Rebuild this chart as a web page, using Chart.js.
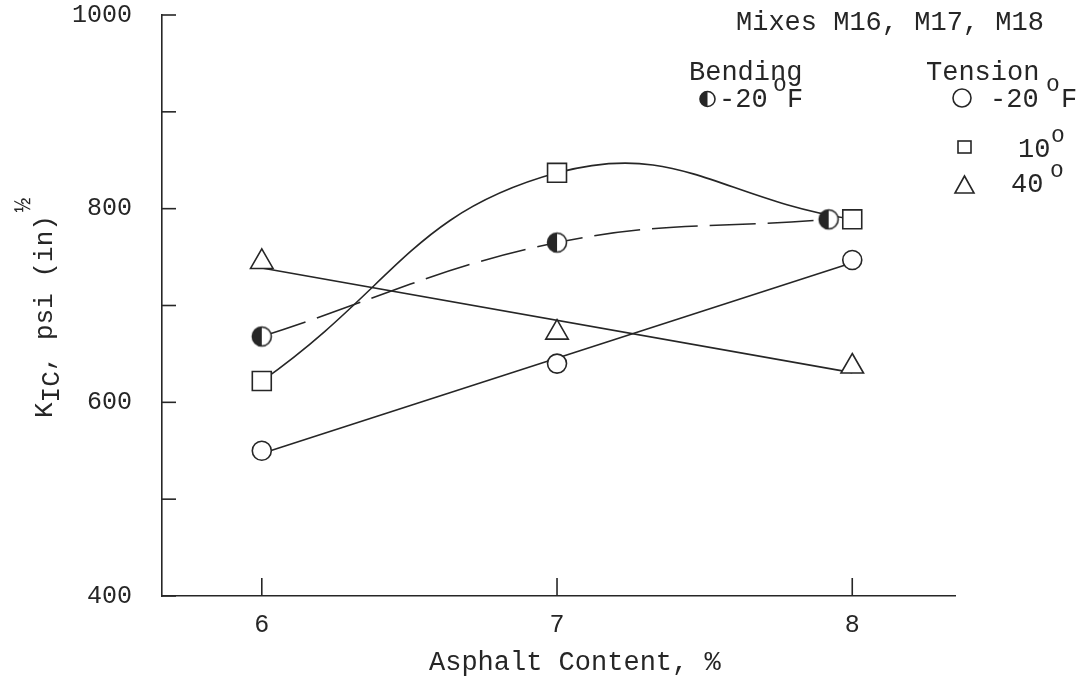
<!DOCTYPE html>
<html>
<head>
<meta charset="utf-8">
<script src="https://cdn.jsdelivr.net/npm/chart.js@4.4.1/dist/chart.umd.min.js"></script>
<style>
  html, body { margin: 0; padding: 0; background: #fff; }
  #wrap { width: 1088px; height: 681px; position: relative; }
</style>
</head>
<body>
<div id="wrap"><canvas id="c" width="1088" height="681"></canvas></div>
<script>
// Asphalt content (%) for each mix
const asphaltContent = [6, 7, 8];
const bendingContent = [6, 7, 7.92];

// Fracture toughness K_IC, psi (in)^1/2
const tensionMinus20 = [550, 640, 747];
const tension10 = [622, 837, 789];
const tension40 = [745, 672, 637];
const bendingMinus20 = [668, 765, 789];

// Axis ticks
const xTicks = [6, 7, 8];
const yTicks = [400, 500, 600, 700, 800, 900, 1000];
const yLabels = [400, 600, 800, 1000];

const INK = '#262626';
const FONT = 'Liberation Mono';
const f = (s) => s + 'px "' + FONT + '"';

const pts = (xs, ys) => xs.map((x, i) => ({ x: x, y: ys[i] }));

// least-squares straight line evaluated at the ends of the data
function fitLine(xs, ys) {
  const n = xs.length;
  const mx = xs.reduce((a, b) => a + b, 0) / n;
  const my = ys.reduce((a, b) => a + b, 0) / n;
  let sxy = 0, sxx = 0;
  for (let i = 0; i < n; i++) { sxy += (xs[i] - mx) * (ys[i] - my); sxx += (xs[i] - mx) ** 2; }
  const b = sxy / sxx;
  const x0 = xs[0], x1 = xs[n - 1];
  return [{ x: x0, y: my + b * (x0 - mx) }, { x: x1, y: my + b * (x1 - mx) }];
}

// half-filled circle (left half solid)
function drawHalfCircle(ctx, cx, cy, r) {
  ctx.save();
  ctx.beginPath(); ctx.arc(cx, cy, r, 0, Math.PI * 2);
  ctx.fillStyle = '#fff'; ctx.fill();
  ctx.beginPath(); ctx.arc(cx, cy, r, Math.PI / 2, Math.PI * 1.5);
  ctx.closePath(); ctx.fillStyle = INK; ctx.fill();
  ctx.beginPath(); ctx.arc(cx, cy, r, 0, Math.PI * 2);
  ctx.lineWidth = 1.6; ctx.strokeStyle = INK; ctx.stroke();
  ctx.restore();
}
const halfMarker = document.createElement('canvas');
halfMarker.width = 24; halfMarker.height = 24;
drawHalfCircle(halfMarker.getContext('2d'), 12, 12, 9.5);

const markerBase = { showLine: false, pointBackgroundColor: '#fff', pointBorderColor: INK, pointBorderWidth: 1.6, borderColor: INK };
const lineBase = { pointRadius: 0, borderColor: INK, borderWidth: 1.6, fill: false };

const frame = {
  id: 'frame',
  afterDraw(chart) {
    const ctx = chart.ctx;
    const xs = chart.scales.x, ys = chart.scales.y;
    const left = chart.chartArea.left, bottom = chart.chartArea.bottom;
    ctx.save();
    ctx.strokeStyle = INK; ctx.lineWidth = 1.6;
    // inward tick marks
    yTicks.forEach(v => {
      const p = ys.getPixelForValue(v);
      ctx.beginPath(); ctx.moveTo(left, p); ctx.lineTo(left + 14, p); ctx.stroke();
    });
    xTicks.forEach(v => {
      const p = xs.getPixelForValue(v);
      ctx.beginPath(); ctx.moveTo(p, bottom); ctx.lineTo(p, bottom - 18); ctx.stroke();
    });

    ctx.fillStyle = INK;
    ctx.textAlign = 'left'; ctx.textBaseline = 'alphabetic';

    // x-axis title
    ctx.font = f(27);
    ctx.fillText('Asphalt Content, %', 429, 670);

    // y-axis title: K_IC, psi (in)^1/2
    ctx.save();
    ctx.translate(52, 418); ctx.rotate(-Math.PI / 2);
    ctx.font = f(26);
    let tx = 0;
    ctx.fillText('K', tx, 0); tx += ctx.measureText('K').width;
    ctx.fillText('IC', tx, 7); tx += ctx.measureText('IC').width;
    ctx.fillText(', psi (in)', tx, 0); tx += ctx.measureText(', psi (in)').width;
    ctx.font = f(24);
    ctx.fillText('\u00BD', tx + 3, -22);
    ctx.restore();

    // key
    ctx.font = f(27);
    ctx.fillText('Mixes M16, M17, M18', 736, 30);
    ctx.fillText('Bending', 689, 80);
    ctx.fillText('Tension', 926, 80);

    drawHalfCircle(ctx, 707.5, 99, 7.5);
    ctx.fillStyle = INK;
    ctx.fillText('-20', 719, 107);
    ctx.fillText('F', 787, 107);
    ctx.fillText('-20', 990, 107);
    ctx.fillText('F', 1061, 107);
    ctx.fillText('10', 1018, 157);
    ctx.fillText('40', 1011, 192);

    ctx.font = f(23);
    ctx.fillText('o', 773, 91);
    ctx.fillText('o', 1046, 91);
    ctx.fillText('o', 1051, 142);
    ctx.fillText('o', 1050, 177);

    ctx.lineWidth = 1.6; ctx.strokeStyle = INK;
    ctx.beginPath(); ctx.arc(962, 98, 9, 0, Math.PI * 2); ctx.stroke();
    ctx.strokeRect(958, 141, 13, 12);
    ctx.beginPath();
    ctx.moveTo(964.5, 176); ctx.lineTo(974, 193); ctx.lineTo(955, 193); ctx.closePath(); ctx.stroke();
    ctx.restore();
  }
};

new Chart(document.getElementById('c'), {
  type: 'line',
  data: {
    datasets: [
      Object.assign({ label: 'Tension -20°F', data: pts(asphaltContent, tensionMinus20), pointStyle: 'circle', pointRadius: 9.5 }, markerBase),
      Object.assign({ label: 'Tension 10°', data: pts(asphaltContent, tension10), pointStyle: 'rect', pointRadius: 13.4 }, markerBase),
      Object.assign({ label: 'Tension 40°', data: pts(asphaltContent, tension40), pointStyle: 'triangle', pointRadius: 13 }, markerBase),
      Object.assign({ label: 'Bending -20°F', data: pts(bendingContent, bendingMinus20), pointStyle: halfMarker, pointRadius: 10 }, markerBase),
      Object.assign({ label: 'fit -20', data: fitLine(asphaltContent, tensionMinus20), tension: 0 }, lineBase),
      Object.assign({ label: 'curve 10', data: pts(asphaltContent, tension10), tension: 0.45 }, lineBase),
      Object.assign({ label: 'fit 40', data: fitLine(asphaltContent, tension40), tension: 0 }, lineBase),
      Object.assign({ label: 'curve bending', data: pts(bendingContent, bendingMinus20), tension: 0.4, borderDash: [46, 12] }, lineBase)
    ]
  },
  options: {
    responsive: false,
    animation: false,
    events: [],
    layout: { padding: { top: 15, right: 133, left: 0, bottom: 0 } },
    plugins: { legend: { display: false }, tooltip: { enabled: false } },
    scales: {
      x: {
        type: 'linear', min: 5.662, max: 8.348,
        afterBuildTicks: (s) => { s.ticks = xTicks.map(v => ({ value: v })); },
        afterFit: (s) => { s.height = 85; s.paddingLeft = 0; s.paddingRight = 0; },
        grid: { display: false, drawTicks: false },
        border: { display: true, color: INK, width: 1.6 },
        ticks: { font: { family: FONT, size: 25 }, color: INK, padding: 14, maxRotation: 0 }
      },
      y: {
        type: 'linear', min: 400, max: 1000,
        afterBuildTicks: (s) => { s.ticks = yTicks.map(v => ({ value: v })); },
        afterFit: (s) => { s.width = 162; s.paddingTop = 0; s.paddingBottom = 0; },
        grid: { display: false, drawTicks: false },
        border: { display: true, color: INK, width: 1.6 },
        ticks: {
          font: { family: FONT, size: 25 }, color: INK, padding: 30,
          callback: (v) => yLabels.includes(v) ? String(v) : ''
        }
      }
    }
  },
  plugins: [frame]
});
</script>
</body>
</html>
